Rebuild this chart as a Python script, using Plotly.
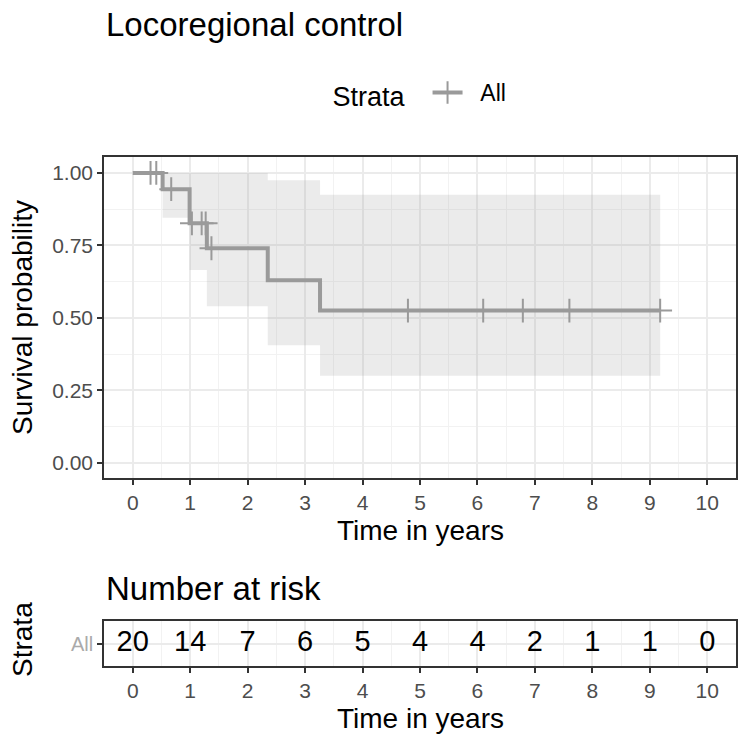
import numpy as np
import plotly.graph_objects as go

# Kaplan-Meier steps
step_times = [0.0, 0.52, 0.99, 1.29, 2.35, 3.26]
surv = [1.0, 0.944, 0.826, 0.74, 0.63, 0.525]
lower = [1.0, 0.845, 0.665, 0.54, 0.405, 0.30]
upper = [1.0, 1.0, 1.0, 1.0, 0.975, 0.925]
end_time = 9.18

# censoring marks
cens_times = [0.31, 0.41, 0.67, 1.03, 1.20, 1.27, 1.37, 4.79, 6.10, 6.79, 7.60, 9.18]

# number at risk table
risk_times = [0, 1, 2, 3, 4, 5, 6, 7, 8, 9, 10]
risk_n = [20, 14, 7, 6, 5, 4, 4, 2, 1, 1, 0]

LINE = '#9a9a9a'
FONT = 'Liberation Sans'

W, H = 750, 744
M_L, M_R, M_T, M_B = 104, W - 736, 157, H - 666
PLOT_W = W - M_L - M_R
PLOT_H = H - M_T - M_B


def py(p):
    # pixel row -> paper y
    return (H - M_B - p) / PLOT_H


def px(p):
    # pixel column -> paper x
    return (p - M_L) / PLOT_W


def stepped(vals):
    return list(step_times) + [end_time], list(vals) + [vals[-1]]


idx = np.searchsorted(step_times, cens_times, side='right') - 1
cens_surv = [surv[i] for i in idx]

cens_marker = dict(symbol='cross-thin-open', size=17, color=LINE,
                   line=dict(color=LINE, width=2))

fig = go.Figure()

bx, bl = stepped(lower)
_, bu = stepped(upper)
fig.add_trace(go.Scatter(x=bx, y=bl, mode='lines', line=dict(width=0, shape='hv'),
                         showlegend=False, hoverinfo='skip'))
fig.add_trace(go.Scatter(x=bx, y=bu, mode='lines', line=dict(width=0, shape='hv'),
                         fill='tonexty', fillcolor='rgba(153,153,153,0.2)',
                         showlegend=False, hoverinfo='skip'))

sx, sy = stepped(surv)
fig.add_trace(go.Scatter(x=sx, y=sy, mode='lines', line=dict(color=LINE, width=4, shape='hv'),
                         showlegend=False))
fig.add_trace(go.Scatter(x=cens_times, y=cens_surv, mode='markers', marker=cens_marker,
                         showlegend=False))

# legend entry
fig.add_trace(go.Scatter(x=[None], y=[None], mode='lines+markers', name='\u00a0\u00a0All',
                         line=dict(color=LINE, width=4), marker=cens_marker))

fig.add_trace(go.Scatter(x=risk_times, y=[1] * len(risk_times), mode='text',
                         text=[str(v) for v in risk_n],
                         textfont=dict(size=29, color='black', family=FONT),
                         xaxis='x2', yaxis='y2', showlegend=False))

axis_common = dict(showline=True, mirror=True, linecolor='#333333', linewidth=1.5,
                   ticks='outside', ticklen=5, tickwidth=1.5, tickcolor='#333333',
                   gridcolor='#EBEBEB', gridwidth=1.5, zeroline=False)

fig.update_layout(
    width=W, height=H,
    margin=dict(l=M_L, r=M_R, t=M_T, b=M_B),
    plot_bgcolor='white', paper_bgcolor='white',
    font=dict(family=FONT, color='#4D4D4D'),
    xaxis=dict(domain=[0, 1], anchor='y', range=[-0.5, 10.5], tickvals=risk_times,
               tickfont=dict(size=21, color='#4D4D4D'),
               minor=dict(dtick=0.5, tick0=0.5, showgrid=True, gridcolor='#F2F2F2', gridwidth=1),
               **axis_common),
    yaxis=dict(domain=[py(478), 1], anchor='x', range=[-0.053, 1.055],
               tickvals=[0, 0.25, 0.5, 0.75, 1.0],
               ticktext=['0.00', '0.25', '0.50', '0.75', '1.00'],
               tickfont=dict(size=21, color='#4D4D4D'),
               minor=dict(dtick=0.125, tick0=0.125, showgrid=True, gridcolor='#F2F2F2', gridwidth=1),
               **axis_common),
    xaxis2=dict(domain=[0, 1], anchor='y2', range=[-0.5, 10.5], tickvals=risk_times,
                tickfont=dict(size=21, color='#4D4D4D'),
                minor=dict(dtick=0.5, tick0=0.5, showgrid=True, gridcolor='#F2F2F2', gridwidth=1),
                **axis_common),
    yaxis2=dict(domain=[0, py(621)], anchor='x2', range=[0.5, 1.5], tickvals=[1],
                ticktext=['All'], tickfont=dict(size=20, color='#AAAAAA'),
                **axis_common),
    legend=dict(orientation='h', x=px(421), xanchor='center', y=py(94), yanchor='middle',
                title=dict(text='Strata\u00a0\u00a0', font=dict(size=27, color='black')),
                font=dict(size=23, color='black')),
    annotations=[
        dict(text='Locoregional control', x=px(104), y=py(24), xref='paper', yref='paper',
             showarrow=False, xanchor='left', yanchor='middle',
             font=dict(size=33, color='black')),
        dict(text='Time in years', x=0.5, y=py(530), xref='paper', yref='paper',
             showarrow=False, yanchor='middle', font=dict(size=28, color='black')),
        dict(text='Survival probability', x=px(22), y=py(318), xref='paper', yref='paper',
             showarrow=False, textangle=-90, xanchor='center', yanchor='middle',
             font=dict(size=28, color='black')),
        dict(text='Number at risk', x=px(104), y=py(588), xref='paper', yref='paper',
             showarrow=False, xanchor='left', yanchor='middle',
             font=dict(size=33, color='black')),
        dict(text='Time in years', x=0.5, y=py(718), xref='paper', yref='paper',
             showarrow=False, yanchor='middle', font=dict(size=28, color='black')),
        dict(text='Strata', x=px(22), y=py(640), xref='paper', yref='paper',
             showarrow=False, textangle=-90, xanchor='center', yanchor='middle',
             font=dict(size=28, color='black')),
    ],
)

# drop the default page margin so the figure fills the window exactly
fig.write_html("out.html", config={'displayModeBar': False},
               post_script="document.body.style.margin='0px';")
